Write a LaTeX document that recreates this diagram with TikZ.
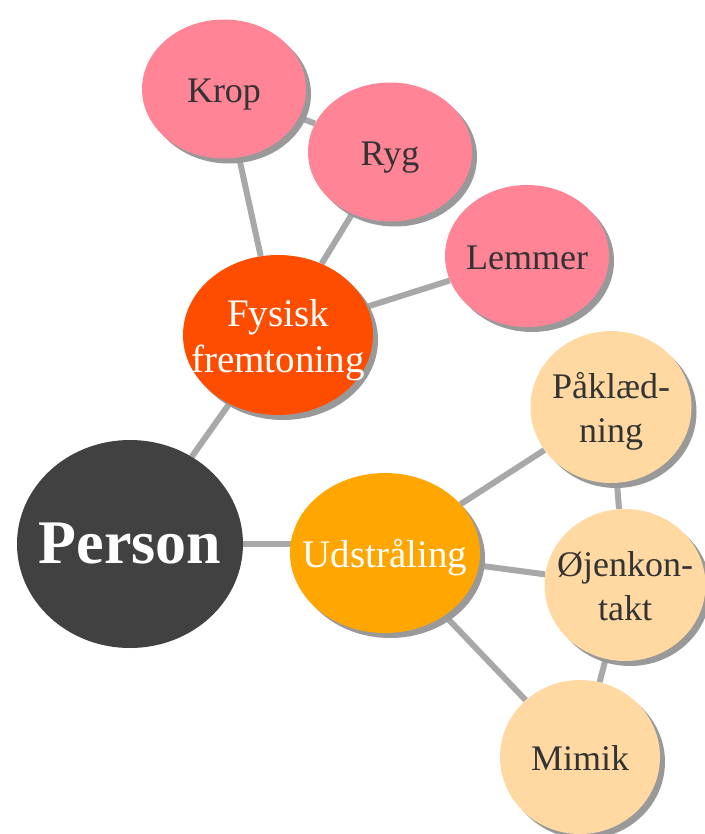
\documentclass[tikz,border=0pt]{standalone}
\usepackage{fontspec}
\setmainfont{Liberation Serif}
\usetikzlibrary{shapes.geometric,shadows,backgrounds}
\definecolor{rootgray}{HTML}{414141}
\definecolor{bodyred}{HTML}{FF4D00}
\definecolor{glowamber}{HTML}{FFA600}
\definecolor{pinkleaf}{HTML}{FF8496}
\definecolor{peachleaf}{HTML}{FFD9A1}
\definecolor{linkgray}{HTML}{A8A8A8}
% text that does not widen the ellipse
\newcommand{\bubbletext}[1]{\raisebox{-5pt}[\height][\depth]{\makebox[0pt]{\begin{tabular}{@{}c@{}}#1\end{tabular}}}}
\begin{document}
\begin{tikzpicture}[x=1pt,y=-1pt,
    bubble/.style={ellipse,inner sep=0pt,text=black!80,
      font=\fontsize{36}{44}\selectfont,
      drop shadow={shadow xshift=5pt,shadow yshift=-5pt,fill=black!40,opacity=1}},
    leafpink/.style={bubble,fill=pinkleaf,minimum width=164pt,minimum height=139pt},
    leafpeach/.style={bubble,fill=peachleaf,minimum width=161pt,minimum height=152pt},
    branch/.style={bubble,text=white,font=\fontsize{39}{46}\selectfont,
      minimum width=190pt,minimum height=160pt},
    link/.style={line width=6pt,linkgray}]
    \useasboundingbox (0,0) rectangle (704,834);

    \node[ellipse,inner sep=0pt,fill=rootgray,text=white,minimum width=226pt,minimum height=208pt,
        font=\fontsize{62}{70}\selectfont\bfseries] (person) at (130,544) {\bubbletext{Person}};

    \node[branch,fill=bodyred] (fysisk) at (278,335) {\bubbletext{Fysisk\\fremtoning}};
    \node[branch,fill=glowamber] (udstraaling) at (385,553) {\bubbletext{Udstråling}};

    \node[leafpink] (krop) at (224,89) {\bubbletext{Krop}};
    \node[leafpink] (ryg) at (390,152) {\bubbletext{Ryg}};
    \node[leafpink,minimum height=142pt] (lemmer) at (527,256) {\bubbletext{Lemmer}};

    \node[leafpeach] (paaklaedning) at (611,407) {\bubbletext{Påklæd-\\ning}};
    \node[leafpeach] (oejenkontakt) at (625,585) {\bubbletext{Øjenkon-\\takt}};
    \node[leafpeach,minimum width=160pt,minimum height=154pt] (mimik) at (580,757) {\bubbletext{Mimik}};

    \begin{pgfonlayer}{background}
        \draw[link] (person) -- (fysisk);
        \draw[link] (person.center) -- (udstraaling.center |- person.center);
        \draw[link] (fysisk) -- (krop);
        \draw[link] (fysisk) -- (ryg);
        \draw[link] (fysisk) -- (lemmer);
        \draw[link] (krop) -- (ryg);
        \draw[link] (udstraaling) -- (paaklaedning);
        \draw[link] (udstraaling) -- (oejenkontakt);
        \draw[link] (udstraaling) -- (mimik);
        \draw[link] (paaklaedning) -- (oejenkontakt);
        \draw[link] (oejenkontakt) -- (mimik);
    \end{pgfonlayer}
\end{tikzpicture}
\end{document}
